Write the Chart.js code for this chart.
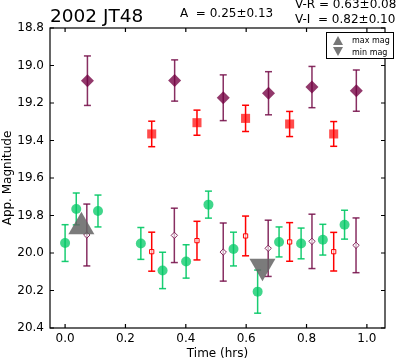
<!DOCTYPE html>
<html>
<head>
<meta charset="utf-8">
<script src="https://cdn.jsdelivr.net/npm/chart.js@4.4.0/dist/chart.umd.min.js"></script>
<style>
    body { margin: 0; background: #fff; }
    #wrap { position: relative; width: 400px; height: 362px; font-family: "DejaVu Sans", sans-serif; color: #000; }
    .txt { position: absolute; line-height: 1; white-space: pre; }
    #legend { position: absolute; left: 326px; top: 32px; width: 66px; height: 25px; border: 1px solid #000; background: #fff; }
    #legend svg { position: absolute; left: 3px; top: 2px; }
    #legend .row { position: absolute; left: 25px; font-size: 8px; line-height: 1; white-space: pre; }
</style>
</head>
<body>
<div id="wrap">
    <canvas id="chart" width="400" height="362"></canvas>
    <div class="txt" style="left:50px;top:6.5px;font-size:18.5px;">2002 JT48</div>
    <div class="txt" style="left:180px;top:6.5px;font-size:12px;">A  = 0.25±0.13</div>
    <div class="txt" style="left:295px;top:-2px;font-size:12px;">V-R = 0.63±0.08</div>
    <div class="txt" style="left:295px;top:13px;font-size:12px;">V-I  = 0.82±0.10</div>
    <div id="legend">
        <svg width="16" height="22">
            <polygon points="8,1 13,10 3,10" fill="#777"/>
            <polygon points="3,12 13,12 8,21" fill="#777"/>
        </svg>
        <div class="row" style="top:4px;">max mag</div>
        <div class="row" style="top:16px;">min mag</div>
    </div>
</div>
<script>
// V band (green circles)
let vTime = [0.000, 0.037, 0.109, 0.251, 0.323, 0.401, 0.475, 0.558, 0.638, 0.709, 0.782, 0.854, 0.926];
let vMag  = [19.947, 19.765, 19.776, 19.949, 20.093, 20.045, 19.742, 19.979, 20.206, 19.941, 19.949, 19.929, 19.849];
let vErr  = [0.098, 0.085, 0.085, 0.085, 0.097, 0.089, 0.072, 0.090, 0.115, 0.080, 0.082, 0.082, 0.077];

// R band (filled squares)
let rTime = [0.287, 0.437, 0.598, 0.744, 0.890];
let rMag  = [19.365, 19.305, 19.282, 19.312, 19.365];
let rErr  = [0.068, 0.067, 0.070, 0.067, 0.066];

// I band (filled diamonds)
let iTime = [0.074, 0.363, 0.524, 0.674, 0.818, 0.965];
let iMag  = [19.081, 19.080, 19.172, 19.148, 19.115, 19.134];
let iErr  = [0.132, 0.110, 0.122, 0.115, 0.110, 0.110];

// R shifted to V (open squares)
let rvTime = [0.287, 0.437, 0.598, 0.744, 0.890];
let rvMag  = [19.993, 19.934, 19.909, 19.941, 19.993];
let rvErr  = [0.104, 0.103, 0.106, 0.103, 0.103];

// I shifted to V (open diamonds)
let ivTime = [0.072, 0.362, 0.524, 0.673, 0.818, 0.964];
let ivMag  = [19.904, 19.906, 19.995, 19.975, 19.938, 19.959];
let ivErr  = [0.165, 0.145, 0.155, 0.150, 0.145, 0.146];

// max / min of the light curve
let maxTime = [0.054], maxMag = [19.860];
let minTime = [0.654], minMag = [20.070];

let xTicks = [0.0, 0.2, 0.4, 0.6, 0.8, 1.0];
let yTicks = [18.8, 19.0, 19.2, 19.4, 19.6, 19.8, 20.0, 20.2, 20.4];

function points(t, m) {
    return t.map((x, i) => ({x: x, y: m[i]}));
}

// vertical bars as one gapped line, caps come from the 'line' point style
function bars(t, m, e) {
    let arr = [];
    for (let i = 0; i < t.length; ++i) {
        arr.push({x: t[i], y: m[i] - e[i]});
        arr.push({x: t[i], y: m[i] + e[i]});
        arr.push({x: t[i], y: null});
    }
    return arr;
}

function marker(label, data, style, radius, fill, border, width, rotation) {
    return {
        label: label,
        data: data,
        showLine: false,
        pointStyle: style,
        pointRadius: radius,
        pointHoverRadius: radius,
        pointRotation: rotation || 0,
        pointBackgroundColor: fill,
        pointBorderColor: border,
        pointBorderWidth: width,
    };
}

function errBars(data, color) {
    return {
        data: data,
        showLine: true,
        spanGaps: false,
        borderColor: color,
        borderWidth: 1.5,
        pointStyle: 'line',
        pointRadius: 3.5,
        pointHoverRadius: 3.5,
        pointBorderColor: color,
        pointBorderWidth: 1.5,
    };
}

const purple = "rgba(115,0,65,0.78)";
const purpleBar = "rgba(115,10,70,0.85)";
const red = "rgba(255,0,0,0.7)";
const green = "rgba(0,200,100,0.75)";
const greenBar = "rgba(0,200,100,0.9)";
const grey = "rgba(100,100,100,0.85)";

const frameTicks = {
    id: 'frameTicks',
    afterDraw(chart) {
        const ctx = chart.ctx, a = chart.chartArea;
        const xs = chart.scales.x, ys = chart.scales.y;
        ctx.save();
        ctx.strokeStyle = "#000";
        ctx.lineWidth = 1.2;
        ctx.strokeRect(a.left, a.top, a.right - a.left, a.bottom - a.top);
        ctx.beginPath();
        xs.ticks.forEach(t => {
            let px = xs.getPixelForValue(t.value);
            ctx.moveTo(px, a.bottom); ctx.lineTo(px, a.bottom - 4);
            ctx.moveTo(px, a.top); ctx.lineTo(px, a.top + 4);
        });
        ys.ticks.forEach(t => {
            let py = ys.getPixelForValue(t.value);
            ctx.moveTo(a.left, py); ctx.lineTo(a.left + 4, py);
            ctx.moveTo(a.right, py); ctx.lineTo(a.right - 4, py);
        });
        ctx.stroke();
        ctx.restore();
    }
};

Chart.defaults.font.family = "DejaVu Sans";
Chart.defaults.color = "#000";

new Chart(document.getElementById("chart"), {
    type: 'line',
    data: {
        datasets: [
            marker("max mag", points(maxTime, maxMag), 'triangle', 15, grey, grey, 0),
            marker("min mag", points(minTime, minMag), 'triangle', 15, grey, grey, 0, 180),
            marker("V", points(vTime, vMag), 'circle', 5, green, green, 0),
            marker("R", points(rTime, rMag), 'rect', 6.4, red, red, 0),
            marker("I", points(iTime, iMag), 'rectRot', 6.5, purple, purple, 0),
            marker("R+V-R", points(rvTime, rvMag), 'rect', 3, "rgba(255,255,255,0.6)", "red", 1),
            marker("I+V-I", points(ivTime, ivMag), 'rectRot', 3.2, "rgba(255,255,255,0.6)", purpleBar, 1),
            errBars(bars(vTime, vMag, vErr), greenBar),
            errBars(bars(rTime, rMag, rErr), "#ff0000"),
            errBars(bars(iTime, iMag, iErr), purpleBar),
            errBars(bars(rvTime, rvMag, rvErr), "#ff0000"),
            errBars(bars(ivTime, ivMag, ivErr), purpleBar),
        ]
    },
    options: {
        responsive: false,
        animation: false,
        layout: {
            padding: {top: 28, right: 1, left: 0, bottom: 0}
        },
        plugins: {
            legend: {display: false},
            tooltip: {enabled: false},
        },
        scales: {
            x: {
                type: 'linear',
                min: -0.05,
                max: 1.06,
                afterBuildTicks: s => { s.ticks = xTicks.map(v => ({value: v})); },
                afterFit: s => { s.height = 34; },
                grid: {display: false, drawTicks: false},
                border: {display: false},
                ticks: {
                    padding: 4,
                    font: {size: 12},
                    callback: v => v.toFixed(1),
                },
                title: {
                    display: true,
                    text: 'Time (hrs)',
                    font: {size: 12},
                    padding: {top: 0, bottom: 1},
                },
            },
            y: {
                type: 'linear',
                reverse: true,
                min: 18.8,
                max: 20.4,
                afterBuildTicks: s => { s.ticks = yTicks.map(v => ({value: v})); },
                afterFit: s => { s.width = 50; },
                grid: {display: false, drawTicks: false},
                border: {display: false},
                ticks: {
                    padding: 6,
                    font: {size: 12},
                    callback: v => v.toFixed(1),
                },
                title: {
                    display: true,
                    text: 'App. Magnitude',
                    font: {size: 12},
                    padding: {top: 1, bottom: 0},
                },
            },
        },
    },
    plugins: [frameTicks],
});
</script>
</body>
</html>
